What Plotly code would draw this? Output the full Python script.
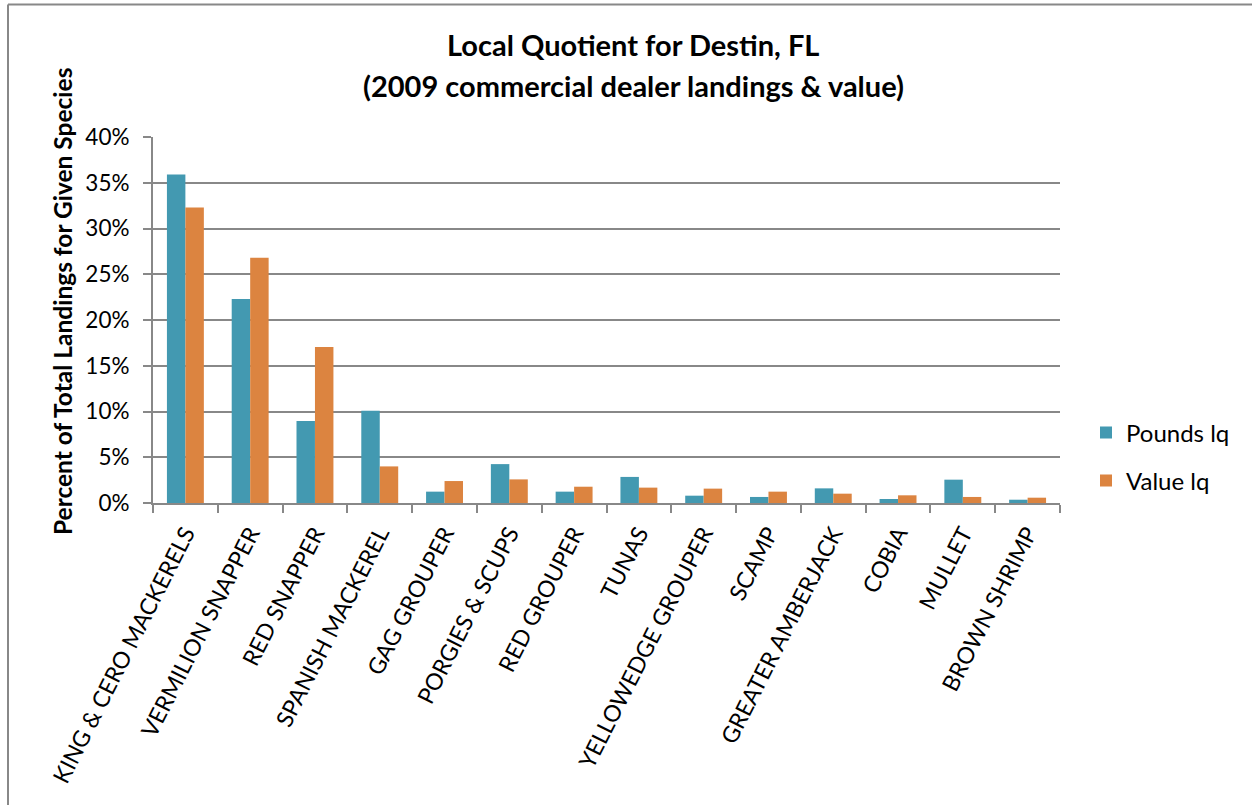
import plotly.graph_objects as go

categories = ["KING & CERO MACKERELS", "VERMILION SNAPPER", "RED SNAPPER", "SPANISH MACKEREL",
              "GAG GROUPER", "PORGIES & SCUPS", "RED GROUPER", "TUNAS", "YELLOWEDGE GROUPER",
              "SCAMP", "GREATER AMBERJACK", "COBIA", "MULLET", "BROWN SHRIMP"]
pounds_lq = [0.359, 0.223, 0.0895, 0.1007, 0.0124, 0.0425, 0.0124, 0.0285, 0.008,
             0.0066, 0.016, 0.0044, 0.0255, 0.0036]
value_lq = [0.323, 0.268, 0.1705, 0.040, 0.024, 0.0258, 0.0178, 0.0168, 0.0157,
            0.0124, 0.0102, 0.0084, 0.0066, 0.0058]

W, H = 1252, 805
L, R, T, B = 153, 1060, 136.7, 503.3
pw, ph = R - L, B - T

def px_x(x):
    return (x - L) / pw

def px_y(y):
    return (B - y) / ph

FONT = "Lato"
GRAY = "#888888"

fig = go.Figure()
fig.add_trace(go.Bar(x=categories, y=pounds_lq, name="Pounds lq", legendgroup="a",
                     marker=dict(color="#4399B1", line=dict(width=0))))
fig.add_trace(go.Bar(x=categories, y=value_lq, name="Value lq", legendgroup="b",
                     marker=dict(color="#DC8440", line=dict(width=0))))

fig.update_layout(
    width=W, height=H,
    margin=dict(l=L, r=W - R, t=T, b=H - B, pad=0),
    paper_bgcolor="white", plot_bgcolor="white",
    barmode="group", bargap=0.43, bargroupgap=0,
    font=dict(family=FONT, color="black", size=18),
    showlegend=True,
    legend=dict(x=px_x(1086), y=px_y(457), xanchor="left", yanchor="middle",
                font=dict(size=24, family=FONT), tracegroupgap=14, traceorder="grouped",
                itemwidth=30, bgcolor="rgba(0,0,0,0)"),
    xaxis=dict(type="category", tickson="boundaries", ticks="outside", ticklen=8,
               tickcolor=GRAY, tickwidth=2, showline=True, linecolor=GRAY, linewidth=2,
               tickangle=-63, tickfont=dict(size=23, family=FONT), showgrid=False,
               ticklabelstandoff=6),
    yaxis=dict(range=[0, 0.4], dtick=0.05, tickformat=".0%", ticks="outside", ticklen=8,
               tickcolor=GRAY, tickwidth=2, showline=True, linecolor=GRAY, linewidth=2,
               gridcolor=GRAY, gridwidth=2, zeroline=False,
               tickfont=dict(size=22.5, family=FONT), ticklabelstandoff=9),
    annotations=[
        dict(text="<b>Local Quotient for Destin, FL</b>", xref="paper", yref="paper",
             x=px_x(633), y=px_y(44), showarrow=False, font=dict(size=29, family=FONT),
             xanchor="center", yanchor="middle"),
        dict(text="<b>(2009 commercial dealer landings &amp; value)</b>", xref="paper", yref="paper",
             x=px_x(633), y=px_y(85), showarrow=False, font=dict(size=29, family=FONT),
             xanchor="center", yanchor="middle"),
        dict(text="<b>Percent of Total Landings for Given Species</b>", xref="paper", yref="paper",
             x=px_x(62), y=px_y(302), showarrow=False, textangle=-90,
             font=dict(size=24.5, family=FONT), xanchor="center", yanchor="middle"),
    ],
    shapes=[
        dict(type="line", xref="paper", yref="paper", x0=px_x(8), x1=px_x(1260),
             y0=px_y(4), y1=px_y(4), line=dict(color=GRAY, width=2)),
        dict(type="line", xref="paper", yref="paper", x0=px_x(8), x1=px_x(8),
             y0=px_y(4), y1=px_y(820), line=dict(color=GRAY, width=2)),
    ],
)

fig.write_html("out.html")
